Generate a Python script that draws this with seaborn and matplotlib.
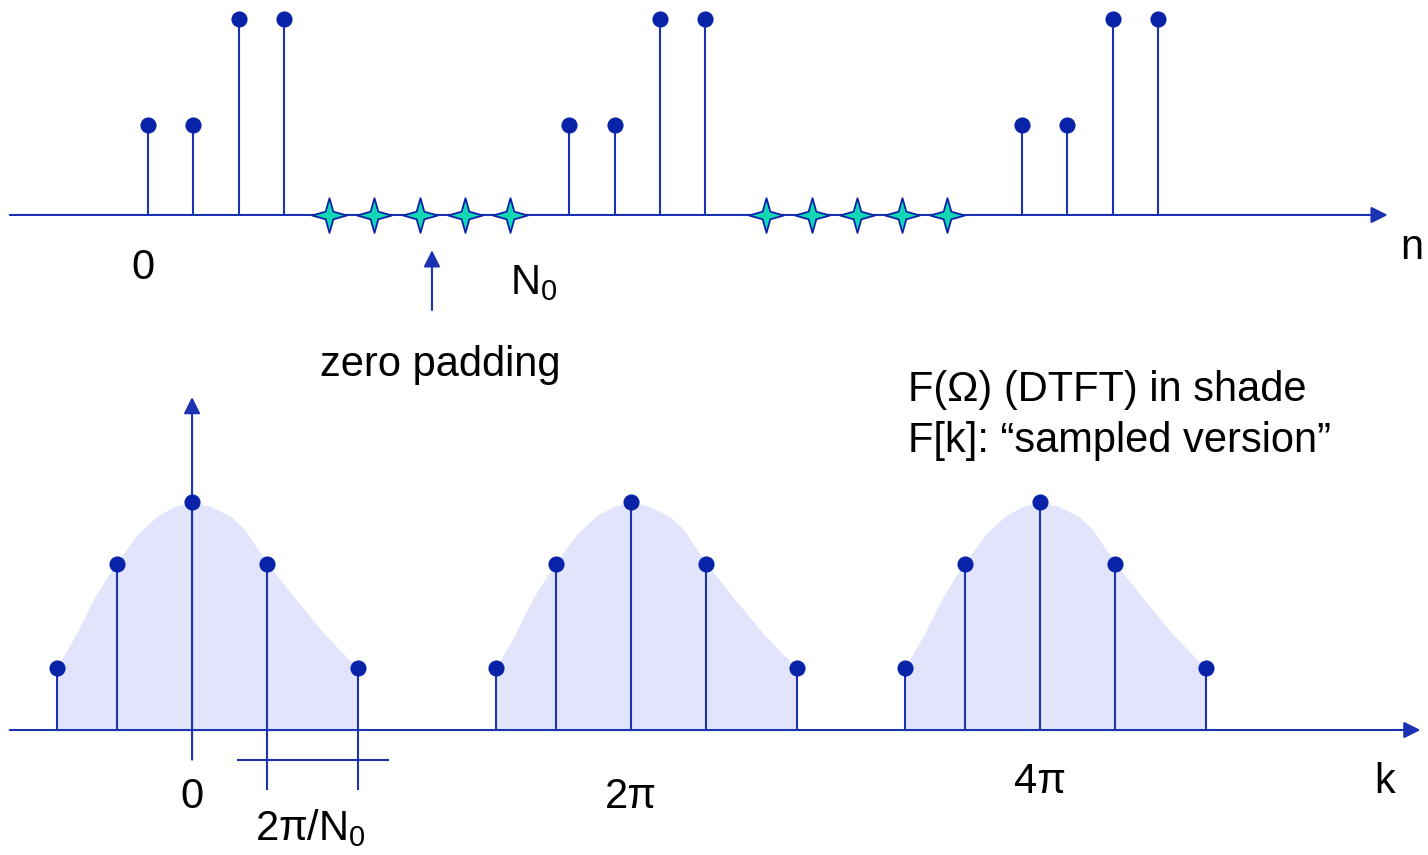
import numpy as np
import pandas as pd
import matplotlib
matplotlib.use("Agg")
import matplotlib.pyplot as plt
from matplotlib.path import Path
import seaborn as sns

# top panel: periodic sequence with zero padding (n in sample units)
n_stems = [0, 1, 2, 3, 9.3, 10.3, 11.3, 12.3, 19.3, 20.3, 21.3, 22.3]
f_stems = [0.46, 0.46, 1.0, 1.0, 0.46, 0.46, 1.0, 1.0, 0.46, 0.46, 1.0, 1.0]
n_zeros = [4, 5, 6, 7, 8, 13.65, 14.65, 15.65, 16.65, 17.65]

# bottom panel: sampled spectrum F[k] (x in units of 2pi/N0)
lobe_centres = [0, 5.83, 11.26]
lobe_labels = ["0", "2π", "4π"]
k_offsets = [-1.79, -1.0, 0.0, 1.0, 2.2]
k_values = [0.27, 0.73, 1.0, 0.73, 0.27]
# DTFT shade outline for one period
shade_dx = [-1.8, -1.54, -1.30, -1.01, -0.72, -0.455, -0.235, 0.0, 0.25, 0.52,
            0.695, 1.0, 1.36, 1.76, 2.2]
shade_h = [0.27, 0.42, 0.58, 0.73, 0.86, 0.94, 0.98, 1.0, 0.98, 0.935,
           0.88, 0.73, 0.58, 0.42, 0.27]

LINE = "#1b33b3"
DOT = "#0822a8"
SHADE = "#e1e4fa"
STAR = "#12d9b4"

sns.set_theme(style="white")
plt.rcParams["font.family"] = ["Liberation Sans", "DejaVu Sans"]
plt.rcParams["text.color"] = "black"
plt.rcParams["mathtext.fontset"] = "custom"
plt.rcParams["mathtext.rm"] = "Liberation Sans"
plt.rcParams["mathtext.it"] = "Liberation Sans:italic"

fig = plt.figure(figsize=(14.28, 8.55), dpi=100)
ax1 = fig.add_axes([0, 0.5439, 1, 0.4561])
ax2 = fig.add_axes([0, 0, 1, 0.5439])
FS = 30
arrow = dict(arrowstyle="-|>", mutation_scale=25, lw=1.5, color=LINE, shrinkA=0, shrinkB=0)

# ---- top panel ----
ax1.set_xlim(-3.267, 28.26)
ax1.set_ylim(-0.893, 1.097)
ax1.annotate("", xy=(27.37, 0), xytext=(-3.05, 0), arrowprops=arrow)
ax1.vlines(n_stems, 0, f_stems, color=LINE, lw=1.5)
top = pd.DataFrame({"n": n_stems, "f": f_stems})
sns.scatterplot(data=top, x="n", y="f", ax=ax1, s=135, color=DOT, linewidth=0, zorder=3)
star = Path([(0, 1), (0.22, 0.22), (1, 0), (0.22, -0.22), (0, -1), (-0.22, -0.22),
             (-1, 0), (-0.22, 0.22), (0, 1)], closed=True)
ax1.plot(n_zeros, [0] * len(n_zeros), ls="none", marker=star, ms=25,
         mfc=STAR, mec=DOT, mew=1.3, zorder=4)
ax1.annotate("", xy=(6.27, -0.18), xytext=(6.27, -0.485), arrowprops=arrow)
ax1.text(-0.11, -0.27, "0", fontsize=FS, ha="center", va="center")
ax1.text(7.99, -0.347, r"$\mathrm{N_0}$", fontsize=FS, ha="left", va="center")
ax1.text(27.9, -0.168, "n", fontsize=FS, ha="center", va="center")
ax1.text(6.45, -0.765, "zero padding", fontsize=FS, ha="center", va="center")
ax1.axis("off")

# ---- bottom panel ----
ax2.set_xlim(-2.55, 16.41)
ax2.set_ylim(-0.548, 1.491)
for c in lobe_centres:
    ax2.fill_between([c + d for d in shade_dx], shade_h, 0, color=SHADE, lw=0, zorder=0)
ax2.annotate("", xy=(16.31, 0), xytext=(-2.42, 0), arrowprops=arrow)
ax2.annotate("", xy=(0, 1.46), xytext=(0, -0.13), arrowprops=arrow)
rows = [(c + d, v) for c in lobe_centres for d, v in zip(k_offsets, k_values)]
bot = pd.DataFrame(rows, columns=["k", "F"])
ax2.vlines(bot["k"], 0, bot["F"], color=LINE, lw=1.5)
sns.scatterplot(data=bot, x="k", y="F", ax=ax2, s=135, color=DOT, linewidth=0, zorder=3)

# 2pi/N0 spacing marker
ax2.vlines([k_offsets[3], k_offsets[4]], -0.263, 0, color=LINE, lw=1.5)
ax2.hlines(-0.13, 0.6, 2.62, color=LINE, lw=1.5)
ax2.text(1.57, -0.43, r"$\mathrm{2π/N_0}$", fontsize=FS, ha="center", va="center")

label_y = [-0.294, -0.294, -0.228]
for c, lab, y in zip(lobe_centres, lobe_labels, label_y):
    ax2.text(c, y, lab, fontsize=FS, ha="center", va="center")
ax2.text(15.84, -0.228, "k", fontsize=FS, ha="center", va="center")
ax2.text(9.51, 1.49, "F(Ω) (DTFT) in shade", fontsize=FS, ha="left", va="center")
ax2.text(9.51, 1.268, "F[k]: “sampled version”", fontsize=FS, ha="left", va="center")
ax2.axis("off")

fig.savefig("out.png", dpi=100)
